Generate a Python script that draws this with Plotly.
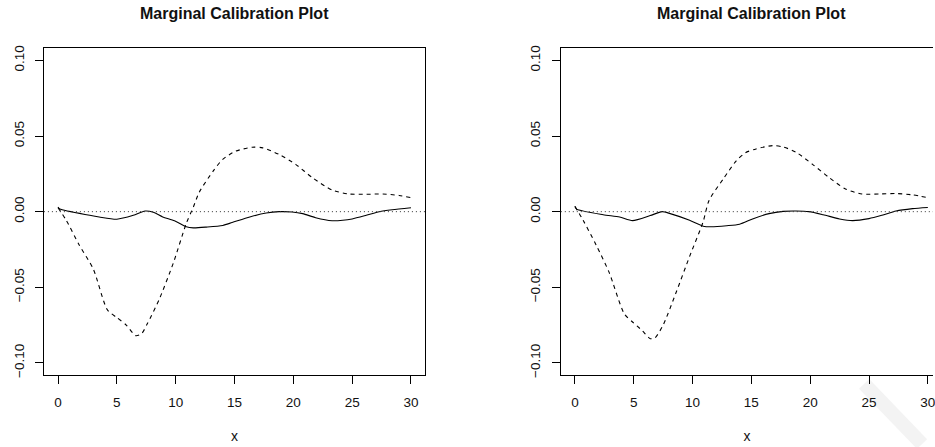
import plotly.graph_objects as go

# ---------------- data ----------------
x_tick_vals = [0, 5, 10, 15, 20, 25, 30]
x_tick_text = ["0", "5", "10", "15", "20", "25", "30"]
y_tick_vals = [-0.10, -0.05, 0.00, 0.05, 0.10]
y_tick_text = ["\u22120.10", "\u22120.05", "0.00", "0.05", "0.10"]

# panel 1
p1_solid_x = [0, 0.15, 2.7, 3.5, 5.0, 6.4, 7.4, 8.1, 8.9, 9.9, 10.9, 11.5, 12.6, 14.0, 14.8,
              16.3, 17.7, 18.8, 19.9, 20.8, 21.9, 23.3, 24.2, 25.0, 26.2, 27.3, 28.4, 30.0]
p1_solid_y = [0.0030, 0.0017, -0.0024, -0.0035, -0.0050, -0.0024, 0.0004, -0.0004, -0.0035,
              -0.0060, -0.0100, -0.0107, -0.0102, -0.0091, -0.0072, -0.0035, -0.0009, 0.0000,
              -0.0002, -0.0013, -0.0040, -0.0060, -0.0057, -0.0048, -0.0024, 0.0000, 0.0013, 0.0026]
p1_dash_x = [0, 0.7, 1.8, 3.0, 4.2, 5.0, 5.8, 6.6, 7.1, 7.6, 8.6, 9.8, 10.9, 11.5, 12.0, 13.2,
             14.0, 15.1, 16.5, 17.4, 18.8, 20.2, 21.6, 23.3, 24.7, 26.2, 27.6, 29.0, 30.0]
p1_dash_y = [0.0026, -0.0057, -0.0220, -0.0380, -0.0650, -0.0700, -0.0750, -0.0820, -0.0807,
             -0.0740, -0.0580, -0.0340, -0.0078, 0.0030, 0.0128, 0.0270, 0.0346, 0.0400, 0.0426,
             0.0422, 0.0378, 0.0313, 0.0226, 0.0143, 0.0117, 0.0115, 0.0117, 0.0107, 0.0093]

# panel 2
p2_solid_x = [0, 0.15, 2.4, 3.8, 4.9, 6.4, 7.4, 8.1, 9.75, 10.9, 11.6, 12.9, 14.0, 15.1, 16.5,
              17.7, 18.8, 19.9, 21.1, 22.5, 23.6, 25.0, 26.1, 27.3, 28.7, 30.0]
p2_solid_y = [0.0035, 0.0017, -0.0020, -0.0035, -0.0059, -0.0026, 0.0000, -0.0013, -0.0057,
              -0.0096, -0.0100, -0.0093, -0.0083, -0.0048, -0.0013, 0.0002, 0.0004, 0.0000,
              -0.0020, -0.0048, -0.0059, -0.0046, -0.0024, 0.0004, 0.0020, 0.0028]
p2_dash_x = [0, 0.7, 1.8, 2.9, 4.2, 4.9, 5.7, 6.4, 6.8, 7.5, 8.6, 9.75, 10.9, 11.4, 12.6, 13.7,
             14.5, 15.4, 16.8, 17.7, 18.8, 20.2, 21.6, 23.0, 24.4, 25.9, 27.3, 28.7, 30.0]
p2_dash_y = [0.0035, -0.0057, -0.0220, -0.0400, -0.0676, -0.0730, -0.0785, -0.0840, -0.0835,
             -0.0750, -0.0535, -0.0296, -0.0067, 0.0074, 0.0215, 0.0335, 0.0390, 0.0415, 0.0437,
             0.0428, 0.0393, 0.0313, 0.0226, 0.0150, 0.0117, 0.0117, 0.0120, 0.0111, 0.0093]

titles = ["Marginal Calibration Plot", "Marginal Calibration Plot"]
x_label = "x"

# ---------------- figure ----------------
W, H = 935, 447
FONT = "Liberation Sans, Arial, Helvetica, sans-serif"

fig = go.Figure()
line_solid = dict(color="black", width=1.1, shape="spline", smoothing=0.7)
line_dash = dict(color="black", width=1.1, dash="4px,4px", shape="spline", smoothing=0.7)

fig.add_trace(go.Scatter(x=p1_solid_x, y=p1_solid_y, mode="lines", line=line_solid,
                         xaxis="x", yaxis="y"))
fig.add_trace(go.Scatter(x=p1_dash_x, y=p1_dash_y, mode="lines", line=line_dash,
                         xaxis="x", yaxis="y"))
fig.add_trace(go.Scatter(x=p2_solid_x, y=p2_solid_y, mode="lines", line=line_solid,
                         xaxis="x2", yaxis="y2"))
fig.add_trace(go.Scatter(x=p2_dash_x, y=p2_dash_y, mode="lines", line=line_dash,
                         xaxis="x2", yaxis="y2"))

ydom = [1 - 377 / H, 1 - 46 / H]
x1dom = [44 / W, 426 / W]
x2dom = [562 / W, 1.0]

common_x = dict(tickmode="array", tickvals=x_tick_vals, ticktext=x_tick_text,
                ticks="outside", ticklen=8, tickwidth=1, tickcolor="black",
                showline=True, linecolor="black", linewidth=1, showgrid=False,
                zeroline=False, tickfont=dict(family=FONT, size=13.5, color="#111"),
                title=dict(text=x_label, font=dict(family=FONT, size=14, color="#111"),
                           standoff=22),
                ticklabelstandoff=7, ticklabeloverflow="allow")
common_y = dict(tickmode="array", tickvals=y_tick_vals, ticktext=y_tick_text,
                ticks="outside", ticklen=8, tickwidth=1, tickcolor="black",
                showline=True, linecolor="black", linewidth=1, showgrid=False,
                zeroline=False, tickangle=-90, range=[-0.108, 0.108],
                tickfont=dict(family=FONT, size=13.5, color="#111"),
                ticklabelstandoff=6)

fig.update_layout(
    width=W, height=H, margin=dict(l=0, r=0, t=0, b=0),
    paper_bgcolor="white", plot_bgcolor="white", showlegend=False,
    xaxis=dict(domain=x1dom, range=[-1.2, 31.2], anchor="y", mirror=True, **common_x),
    yaxis=dict(domain=ydom, anchor="x", mirror=True, **common_y),
    xaxis2=dict(domain=x2dom, range=[-1.2, 30.44], anchor="y2", mirror=True, **common_x),
    yaxis2=dict(domain=ydom, anchor="x2", mirror=False, **common_y),
)

# zero reference lines (dotted)
for xr, yr in [("x domain", "y"), ("x2 domain", "y2")]:
    fig.add_shape(type="line", xref=xr, yref=yr, x0=0, x1=1, y0=0, y1=0,
                  line=dict(color="#333", width=1, dash="1px,3px"))

# faint watermark stroke
fig.add_shape(type="line", xref="paper", yref="paper", layer="below",
              x0=866 / W, y0=1 - 386 / H, x1=924 / W, y1=0,
              line=dict(color="#f3f3f3", width=14))

# panel titles
for xc, t in [((44 + 426) / 2 / W, titles[0]), ((562 + 944) / 2 / W, titles[1])]:
    fig.add_annotation(x=xc, y=1 - 11 / H, xref="paper", yref="paper", text="<b>" + t + "</b>",
                       showarrow=False, xanchor="center", yanchor="middle",
                       font=dict(family=FONT, size=16, color="#111"))

fig.write_html("out.html")
